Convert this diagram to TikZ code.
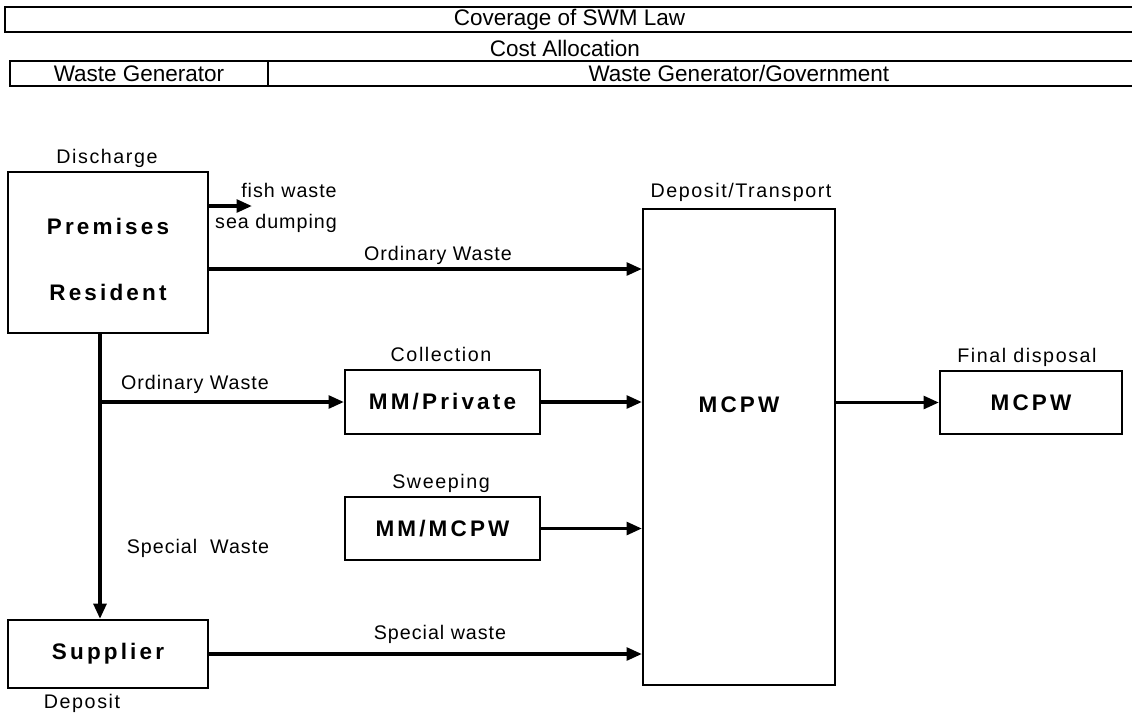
\documentclass[tikz,border=0pt]{standalone}
\usepackage{fontspec}
\setmainfont{Liberation Sans}
\usetikzlibrary{arrows.meta}

\begin{document}
\begin{tikzpicture}[
			x=0.025cm, y=-0.025cm,
			hdr/.style={draw, line width=1pt, inner sep=0pt, minimum height=0.625cm, font=\fontsize{16}{18}\selectfont},
			boxtxt/.style={inner sep=0pt, font=\fontsize{16}{19}\selectfont\bfseries\addfontfeature{LetterSpace=14}},
			box/.style={boxtxt, draw, line width=1.4pt},
			stage/.style={inner sep=1pt, font=\fontsize{14}{16}\selectfont\addfontfeature{LetterSpace=8}},
			flowlbl/.style={inner sep=1pt, font=\fontsize{14}{16}\selectfont\addfontfeature{LetterSpace=5}},
			flow/.style={line width=2.6pt, -{Triangle[length=11pt, width=9pt]}}
		]
		\useasboundingbox (0,0) rectangle (1132,712);

		% Header
		\node[hdr, minimum width=28.225cm] (law) at (569.5,19.5) {Coverage of SWM Law};
		\node[hdr, draw=none] (cost) at (565,48) {Cost Allocation};
		\node[hdr, minimum width=6.45cm] (gen) at (139,73.5) {Waste Generator};
		\node[hdr, minimum width=23.5cm, anchor=west] (gengov) at (268,73.5) {Waste Generator/Government};

		% Discharge
		\node[box, minimum width=5cm, minimum height=4.025cm] (prem) at (108,252.5) {};
		\node[boxtxt] (premtxt) at (108,226) {Premises};
		\node[boxtxt] (restxt) at (108,292) {Resident};
		\node[stage] (discharge) at (107,158) {Discharge};
		\node[flowlbl] (fish) at (289,190) {fish waste};
		\node[flowlbl] (sea) at (276,223) {sea dumping};

		% Supplier
		\node[box, minimum width=5cm, minimum height=1.7cm] (supp) at (108,654) {Supplier};
		\node[stage] (deposit) at (82,703) {Deposit};

		% Collection / Sweeping
		\node[box, minimum width=4.875cm, minimum height=1.6cm] (priv) at (442.5,402) {MM/Private};
		\node[stage] (collection) at (441,354) {Collection};
		\node[box, minimum width=4.875cm, minimum height=1.575cm] (sweep) at (442.5,528.5) {MM/MCPW};
		\node[stage] (sweeping) at (441,483) {Sweeping};

		% Deposit/Transport
		\node[box, minimum width=4.8cm, minimum height=11.9cm] (mcpw) at (739,447) {};
		\node[boxtxt] (mcpwtxt) at (739,405) {MCPW};
		\node[stage] (transport) at (741,192) {Deposit/Transport};

		% Final disposal
		\node[box, minimum width=4.55cm, minimum height=1.575cm] (fin) at (1031,402.5) {MCPW};
		\node[stage] (final) at (1027,357) {Final disposal};

		% Flow labels
		\node[flowlbl] (ordtop) at (438,255) {Ordinary Waste};
		\node[flowlbl] (ordleft) at (195,384) {Ordinary Waste};
		\node[flowlbl] (specleft) at (198,548) {Special\ \ Waste};
		\node[flowlbl] (specbot) at (440,634) {Special waste};

		% Flows
		\coordinate (fishend) at (252,206);
		\coordinate (split) at (100,402);
		\draw[flow] (prem.east |- fishend) -- (fishend);
		\draw[flow] (prem.east |- 0,269) -- (mcpw.west |- 0,269);
		\draw[flow, line width=3.2pt] (split |- prem.south) -- (split |- supp.north);
		\draw[flow] (split) -- (priv.west);
		\draw[flow] (priv.east) -- (mcpw.west |- priv.east);
		\draw[flow] (sweep.east) -- (mcpw.west |- sweep.east);
		\draw[flow] (supp.east) -- (mcpw.west |- supp.east);
		\draw[flow] (mcpw.east |- fin.west) -- (fin.west);

	\end{tikzpicture}
\end{document}
